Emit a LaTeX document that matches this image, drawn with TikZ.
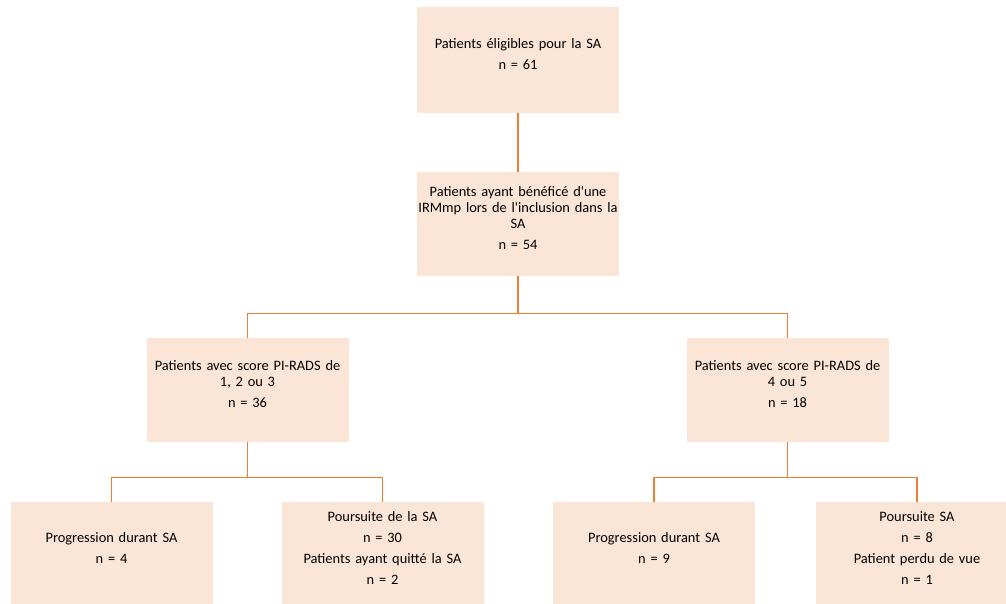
\documentclass[tikz,border=0pt]{standalone}
\usepackage{fontspec}
\setmainfont{Carlito}
\definecolor{peche}{HTML}{FBE5D6}
\definecolor{trait}{HTML}{ED7D31}
\begin{document}
\begin{tikzpicture}[x=1pt,y=-1pt,
  boite/.style={fill=peche, minimum width=202pt, minimum height=104pt, text width=212pt, align=center, inner xsep=-5pt, inner ysep=0pt, font=\fontsize{14.4}{16}\selectfont, execute at end node={\endgraf\kern12pt}},
  lien/.style={draw=trait, line width=1.3pt}]
\useasboundingbox (0,0) rectangle (1006,603);
\node[boite, minimum height=106pt] (1) at (518,60) {Patients éligibles pour la SA\\[5pt] n = 61};
\node[boite] (2) at (518,224) {Patients ayant bénéficé d\textquotesingle une\\ IRMmp lors de l\textquotesingle inclusion dans la\\ SA\\[5pt] n = 54};
\node[boite] (3) at (247.5,390) {Patients avec score PI-RADS de\\ 1, 2 ou 3\\[5pt] n = 36};
\node[boite] (4) at (787.5,390) {Patients avec score PI-RADS de\\ 4 ou 5\\[5pt] n = 18};
\node[boite] (5) at (111.5,554) {Progression durant SA\\[5pt] n = 4};
\node[boite] (6) at (382.5,554) {Poursuite de la SA\\[5pt] n = 30\\[5pt] Patients ayant quitté la SA\\[5pt] n = 2};
\node[boite] (7) at (654,554) {Progression durant SA\\[5pt] n = 9};
\node[boite] (8) at (917,554) {Poursuite SA\\[5pt] n = 8\\[5pt] Patient perdu de vue\\[5pt] n = 1};

\path[lien] (1) -- (2);
\path[lien] (2.south) -- ++(0,37) -| (3.north);
\path[lien] (2.south) -- ++(0,37) -| (4.north);
\path[lien] (3.south) -- ++(0,35) -| (5.north);
\path[lien] (3.south) -- ++(0,35) -| (6.north);
\path[lien] (4.south) -- ++(0,35) -| (7.north);
\path[lien] (4.south) -- ++(0,35) -| (8.north);
\end{tikzpicture}
\end{document}
